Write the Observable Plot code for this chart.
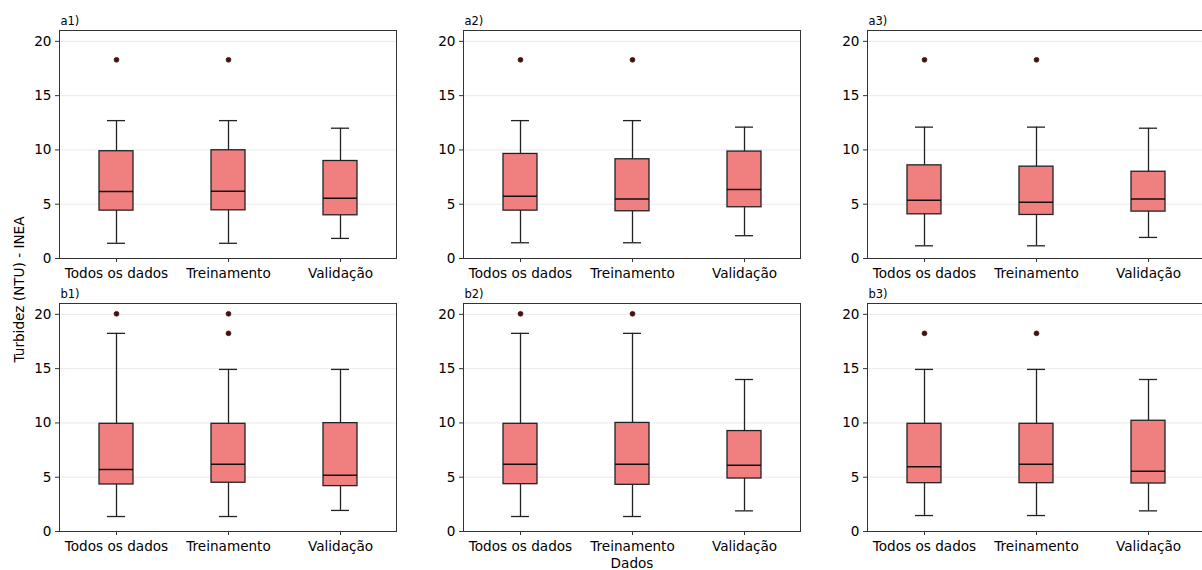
<!DOCTYPE html>
<html>
<head>
<meta charset="utf-8">
<script src="https://cdn.jsdelivr.net/npm/d3@7"></script>
<script src="https://cdn.jsdelivr.net/npm/@observablehq/plot@0.6"></script>
<style>
  html, body { margin: 0; padding: 0; background: white; overflow: hidden; }
  #chart { width: 1202px; height: 570px; overflow: hidden; }
</style>
</head>
<body>
<div id="chart"></div>
<script>
// Categories and panels
const categories = ["Todos os dados", "Treinamento", "Validação"];
const panelLabels = ["a1)", "a2)", "a3)", "b1)", "b2)", "b3)"];
const panelRows = ["a", "a", "a", "b", "b", "b"];
const panelCols = [1, 2, 3, 1, 2, 3];

// Box statistics per panel (order: Todos os dados, Treinamento, Validação)
const whiskerLow = [
  [1.4, 1.4, 1.85],
  [1.45, 1.45, 2.1],
  [1.17, 1.17, 1.94],
  [1.38, 1.38, 1.94],
  [1.38, 1.38, 1.9],
  [1.47, 1.47, 1.9]
];
const q1 = [
  [4.41, 4.44, 3.98],
  [4.41, 4.35, 4.72],
  [4.07, 4.01, 4.32],
  [4.33, 4.49, 4.18],
  [4.36, 4.3, 4.88],
  [4.45, 4.45, 4.42]
];
const median = [
  [6.17, 6.2, 5.56],
  [5.74, 5.49, 6.36],
  [5.37, 5.19, 5.49],
  [5.71, 6.2, 5.19],
  [6.2, 6.2, 6.11],
  [5.96, 6.2, 5.56]
];
const q3 = [
  [9.88, 9.97, 8.98],
  [9.63, 9.14, 9.85],
  [8.58, 8.46, 7.99],
  [9.92, 9.92, 9.98],
  [9.92, 10.0, 9.25],
  [9.92, 9.92, 10.2]
];
const whiskerHigh = [
  [12.7, 12.7, 12.0],
  [12.7, 12.7, 12.1],
  [12.1, 12.1, 12.0],
  [18.25, 14.93, 14.93],
  [18.25, 18.25, 14.0],
  [14.93, 14.93, 14.0]
];
const outliers = [
  [[18.3], [18.3], []],
  [[18.3], [18.3], []],
  [[18.3], [18.3], []],
  [[20.05], [20.05, 18.25], []],
  [[20.05], [20.05], []],
  [[18.25], [18.25], []]
];
const yTicks = [0, 5, 10, 15, 20];

// Build tables
const boxes = [];
const fliers = [];
panelLabels.forEach((p, i) => {
  categories.forEach((c, j) => {
    boxes.push({
      row: panelRows[i], col: panelCols[i], cat: c,
      lo: whiskerLow[i][j], q1: q1[i][j], med: median[i][j], q3: q3[i][j], hi: whiskerHigh[i][j]
    });
    outliers[i][j].forEach(v => fliers.push({row: panelRows[i], col: panelCols[i], cat: c, v}));
  });
});
const labels = panelLabels.map((p, i) => ({row: panelRows[i], col: panelCols[i], label: p}));

const edge = "#222";
const chart = Plot.plot({
  width: 1208,
  height: 570,
  marginLeft: 58,
  marginRight: 2,
  marginTop: 30,
  marginBottom: 39,
  style: {fontFamily: "DejaVu Sans", fontSize: "13.6px", color: "black", background: "white", maxWidth: "none", overflow: "visible"},
  fx: {domain: [1, 2, 3], paddingInner: 0.165, paddingOuter: 0, axis: null},
  fy: {domain: ["a", "b"], paddingInner: 0.165, paddingOuter: 0, axis: null},
  x: {domain: categories, paddingInner: 0.7, paddingOuter: 0.35, axis: null},
  y: {domain: [0, 21], axis: null},
  marks: [
    Plot.gridY(yTicks, {stroke: "#e9e9e9", strokeOpacity: 1, strokeWidth: 1}),
    Plot.ruleX(boxes, {fx: "col", fy: "row", x: "cat", y1: "lo", y2: "q1", stroke: edge, strokeWidth: 1.3}),
    Plot.ruleX(boxes, {fx: "col", fy: "row", x: "cat", y1: "q3", y2: "hi", stroke: edge, strokeWidth: 1.3}),
    Plot.barY(boxes, {fx: "col", fy: "row", x: "cat", y1: "q1", y2: "q3", fill: "#f08080", stroke: edge, strokeWidth: 1.3}),
    Plot.tickY(boxes, {fx: "col", fy: "row", x: "cat", y: "med", stroke: "#111", strokeWidth: 1.5}),
    Plot.tickY(boxes, {fx: "col", fy: "row", x: "cat", y: "lo", stroke: edge, strokeWidth: 1.3, insetLeft: 8, insetRight: 8}),
    Plot.tickY(boxes, {fx: "col", fy: "row", x: "cat", y: "hi", stroke: edge, strokeWidth: 1.3, insetLeft: 8, insetRight: 8}),
    Plot.dot(fliers, {fx: "col", fy: "row", x: "cat", y: "v", r: 2.4, fill: "#6e0000", stroke: "#1a1a1a", strokeWidth: 0.8}),
    Plot.frame({stroke: "#333", strokeWidth: 1}),
    Plot.axisY({ticks: yTicks, tickSize: 4, tickPadding: 4, label: null, facetAnchor: null, stroke: "#333"}),
    Plot.axisX({tickSize: 4, tickPadding: 6, label: null, facetAnchor: null, stroke: "#333"}),
    Plot.text(labels, {fx: "col", fy: "row", text: "label", frameAnchor: "top-left", textAnchor: "start", lineAnchor: "bottom", dx: 1, dy: -6, fontSize: 11.5}),
    Plot.text([{col: 2, row: "b"}], {fx: "col", fy: "row", text: () => "Dados", frameAnchor: "bottom", lineAnchor: "middle", dy: 32.3}),
    Plot.text([{col: 1, row: "a"}], {fx: "col", fy: "row", text: () => "Turbidez (NTU) - INEA", frameAnchor: "bottom-left", lineAnchor: "middle", textAnchor: "middle", rotate: -90, dx: -39.5, dy: 31})
  ]
});
document.getElementById("chart").appendChild(chart);
</script>
</body>
</html>
